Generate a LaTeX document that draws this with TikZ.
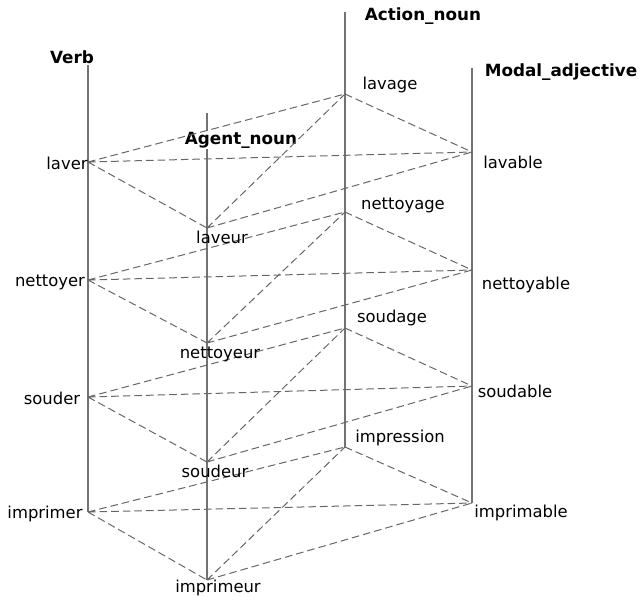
\documentclass[tikz,border=0pt]{standalone}
\usepackage{fontspec}
\setmainfont{DejaVu Sans}
\begin{document}
\begin{tikzpicture}[x=0.5pt,y=-0.5pt,
        axis/.style={draw=black!55, line width=0.7pt},
        link/.style={draw=black!60, dash pattern=on 3.8pt off 2pt, line width=0.5pt},
        header/.style={font=\bfseries\fontsize{8.4}{10}\selectfont, fill=white, inner sep=0.5pt},
        word/.style={font=\fontsize{8.2}{10}\selectfont, inner sep=0pt}]
        \useasboundingbox (0,0) rectangle (641,596);

        % top ends of the four axes
        \coordinate (verbtop) at (88,60);
        \coordinate (agenttop) at (207,113);
        \coordinate (actiontop) at (345,12);
        \coordinate (modaltop) at (472,68);

        % word points on the axes
        \foreach \w/\x/\y in {laver/88/162, nettoyer/88/280, souder/88/397, imprimer/88/512,
                laveur/207/228, nettoyeur/207/343, soudeur/207/462, imprimeur/207/580,
                lavage/345/94, nettoyage/345/212, soudage/345/328, impression/345/447,
                lavable/472/152, nettoyable/472/270, soudable/472/386, imprimable/472/503}{
                \coordinate (\w) at (\x,\y);
            }

        \draw[axis] (verbtop) -- (imprimer);
        \draw[axis] (agenttop) -- (imprimeur);
        \draw[axis] (actiontop) -- (impression);
        \draw[axis] (modaltop) -- (imprimable);

        \node[header] (verb) at (72,57) {Verb};
        \node[header] (agent) at (241,140) {Agent\_noun};
        \node[header] (action) at (423,16) {Action\_noun};
        \node[header] (modal) at (561,72) {Modal\_adjective};

        % one family = verb, agent noun, action noun, modal adjective
        \foreach \v/\a/\n/\m in {laver/laveur/lavage/lavable,
                nettoyer/nettoyeur/nettoyage/nettoyable,
                souder/soudeur/soudage/soudable,
                imprimer/imprimeur/impression/imprimable}{
                \draw[link] (\v) -- (\a) (\v) -- (\n) (\v) -- (\m);
                \draw[link] (\a) -- (\n) (\a) -- (\m) (\n) -- (\m);
            }

        \foreach \w/\x/\y in {laver/67/163, nettoyer/50/282, souder/52/398, imprimer/45/514,
                laveur/222/237, nettoyeur/220/354, soudeur/215/471, imprimeur/218/588,
                lavage/390/85, nettoyage/403/205, soudage/392/318, impression/400/438,
                lavable/513/162, nettoyable/526/285, soudable/515/391, imprimable/521/513}{
                \node[word] (\w-label) at (\x,\y) {\w};
            }

    \end{tikzpicture}
\end{document}
